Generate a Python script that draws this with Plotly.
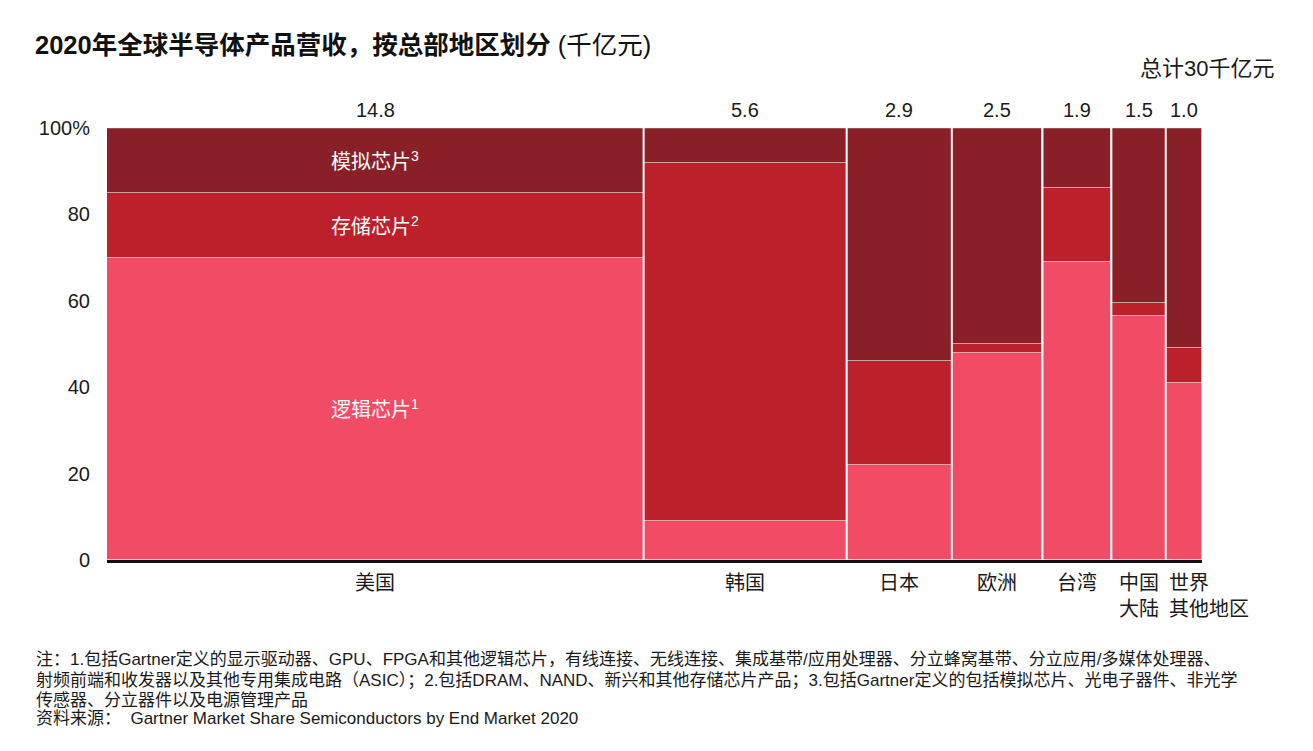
import plotly.graph_objects as go
import numpy as np

# ---- data ----
regions = ["美国", "韩国", "日本", "欧洲", "台湾", "中国<br>大陆", "世界<br>其他地区"]
revenue = [14.8, 5.6, 2.9, 2.5, 1.9, 1.5, 1.0]          # 千亿元
logic = [70, 9, 22, 48, 69, 56.5, 41]                    # %
memory = [15, 83, 24, 2, 17, 3, 8]                       # %
analog = [15, 8, 54, 50, 14, 40.5, 51]                   # %
value_labels = ["14.8", "5.6", "2.9", "2.5", "1.9", "1.5", "1.0"]
y_tickvals = [0, 20, 40, 60, 80, 100]
y_ticktext = ["0", "20", "40", "60", "80", "100%"]
footnote_lines = [
    "注：1.包括Gartner定义的显示驱动器、GPU、FPGA和其他逻辑芯片，有线连接、无线连接、集成基带/应用处理器、分立蜂窝基带、分立应用/多媒体处理器、",
    "射频前端和收发器以及其他专用集成电路（ASIC）；2.包括DRAM、NAND、新兴和其他存储芯片产品；3.包括Gartner定义的包括模拟芯片、光电子器件、非光学",
    "传感器、分立器件以及电源管理产品",
    "资料来源：  Gartner Market Share Semiconductors by End Market 2020",
]

C_LOGIC = "#F14B65"
C_MEM = "#BC212B"
C_ANALOG = "#8A2027"

FONT = "Arial, 'Liberation Sans', 'Noto Sans CJK SC', sans-serif"
TXT = "#1a1a1a"

# layout geometry (pixels); page adds ~8px offset
OFF = 8
W, H = 1313, 751
L, T = 107 - OFF, 128 - OFF
PW, PH = 1095, 432
R = W - L - PW
B = H - T - PH


def px_x(p):
    return (p - OFF - L) / PW


def px_y(p):
    return (T + PH - (p - OFF)) / PH


rev = np.array(revenue)
right = np.cumsum(rev)
left = right - rev
mid = left + rev / 2
total = right[-1]

fig = go.Figure()
for name, vals, base, col in [
    ("逻辑芯片", logic, [0] * len(logic), C_LOGIC),
    ("存储芯片", memory, logic, C_MEM),
    ("模拟芯片", analog, list(np.array(logic) + np.array(memory)), C_ANALOG),
]:
    fig.add_trace(go.Bar(
        x=mid, y=vals, base=base, width=rev, name=name,
        marker=dict(color=col, line=dict(color="rgba(255,255,255,0.35)", width=1)),
        showlegend=False, hoverinfo="skip",
    ))

shapes = [dict(type="line", xref="x", yref="y", x0=0, x1=total, y0=100, y1=100,
               line=dict(color="rgba(160,160,160,0.8)", width=1))]
for xb in right[:-1]:
    shapes.append(dict(type="line", xref="x", yref="y", x0=xb, x1=xb, y0=0, y1=100,
                       line=dict(color="white", width=2)))

ann = []
for xm, t in zip(mid, value_labels):
    ann.append(dict(x=xm, y=100, xref="x", yref="y", text=t, showarrow=False,
                    yanchor="bottom", yshift=5, font=dict(size=20, color=TXT, family=FONT)))
for i, (xm, t) in enumerate(zip(mid, regions)):
    if i == len(regions) - 1:
        ann.append(dict(x=left[i], y=0, xref="x", yref="y", text=t, showarrow=False,
                        xanchor="left", align="left", yanchor="top", yshift=-10, xshift=1,
                        font=dict(size=20, color=TXT, family=FONT)))
    else:
        ann.append(dict(x=xm, y=0, xref="x", yref="y", text=t, showarrow=False,
                        yanchor="top", yshift=-10, font=dict(size=20, color=TXT, family=FONT)))
seg_labels = [("逻辑芯片<sup>1</sup>", logic[0] / 2),
              ("存储芯片<sup>2</sup>", logic[0] + memory[0] / 2),
              ("模拟芯片<sup>3</sup>", logic[0] + memory[0] + analog[0] / 2)]
for t, yv in seg_labels:
    ann.append(dict(x=mid[0], y=yv, xref="x", yref="y", text=t, showarrow=False,
                    font=dict(size=20, color="white", family=FONT)))
ann.append(dict(x=px_x(33), y=px_y(45), xref="paper", yref="paper", xanchor="left", yanchor="middle",
                text="<b>2020年全球半导体产品营收，按总部地区划分</b> (千亿元)", showarrow=False,
                font=dict(size=25.5, color="#111", family=FONT)))
ann.append(dict(x=px_x(1276), y=px_y(68), xref="paper", yref="paper", xanchor="right", yanchor="middle",
                text="总计30千亿元", showarrow=False, font=dict(size=22, color=TXT, family=FONT)))
for line, yc in zip(footnote_lines, [659, 680, 700, 718]):
    ann.append(dict(x=px_x(34), y=px_y(yc), xref="paper", yref="paper", xanchor="left", yanchor="middle",
                    align="left", text=line, showarrow=False,
                    font=dict(size=17, color=TXT, family=FONT)))

fig.update_layout(
    width=W, height=H,
    margin=dict(l=L, r=R, t=T, b=B),
    paper_bgcolor="white", plot_bgcolor="white",
    barmode="overlay", bargap=0,
    shapes=shapes, annotations=ann,
    xaxis=dict(range=[0, total], showgrid=False, zeroline=False, showticklabels=False,
               showline=True, linecolor="#111", linewidth=2.5, ticks="", fixedrange=True),
    yaxis=dict(range=[0, 100], tickvals=y_tickvals, ticktext=y_ticktext, showgrid=False,
               zeroline=False, showline=False, ticks="", ticklabelstandoff=16,
               tickfont=dict(size=20, color=TXT, family=FONT), fixedrange=True),
)

fig.write_html("out.html")
